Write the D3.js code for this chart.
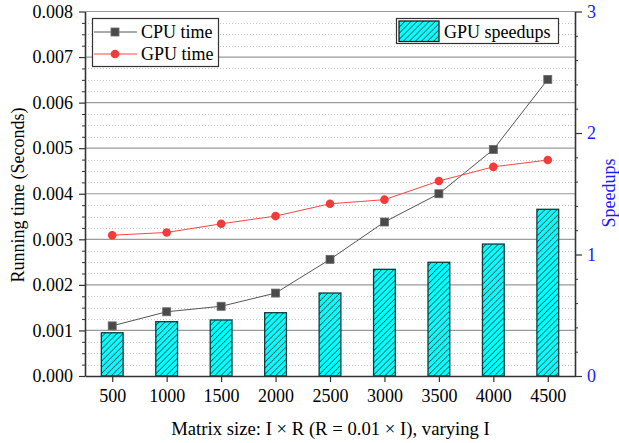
<!DOCTYPE html>
<html>
<head>
<meta charset="utf-8">
<script src="https://cdn.jsdelivr.net/npm/d3@7"></script>
<style>
  body { margin: 0; background: #fff; }
  svg { font-family: "Liberation Serif", "Times New Roman", serif; }
</style>
</head>
<body>
<div id="chart"></div>
<script>
// data
var sizes = [500, 1000, 1500, 2000, 2500, 3000, 3500, 4000, 4500];
var cpuTime = [0.00110, 0.00141, 0.00153, 0.00182, 0.00256, 0.00338, 0.00400, 0.00497, 0.00651];
var gpuTime = [0.00309, 0.00315, 0.00334, 0.00351, 0.00378, 0.00387, 0.00428, 0.00459, 0.00474];
var speedups = [0.356, 0.447, 0.461, 0.521, 0.683, 0.878, 0.936, 1.086, 1.372];
var leftTicks = [0, 0.001, 0.002, 0.003, 0.004, 0.005, 0.006, 0.007, 0.008];
var rightTicks = [0, 1, 2, 3];

// frame (note: "top" is taken by window.top, so use plotTop)
var W = 619, H = 443;
var plotLeft = 85, plotRight = 575, plotTop = 11.5, plotBottom = 376;

var x = d3.scaleLinear().domain([250, 4750]).range([plotLeft, plotRight]);
var yL = d3.scaleLinear().domain([0, 0.008]).range([plotBottom, plotTop]);
var yR = d3.scaleLinear().domain([0, 3]).range([plotBottom, plotTop]);

var svg = d3.select("#chart").append("svg")
    .attr("width", W).attr("height", H);

// hatch pattern for the bars
var pat = svg.append("defs").append("pattern")
    .attr("id", "hatch")
    .attr("patternUnits", "userSpaceOnUse")
    .attr("width", 4.3).attr("height", 4.3)
    .attr("patternTransform", "rotate(45)");
pat.append("rect").attr("width", 4.3).attr("height", 4.3).attr("fill", "#00ffff");
pat.append("line").attr("x1", 0).attr("y1", 0).attr("x2", 0).attr("y2", 4.3)
    .attr("stroke", "#000").attr("stroke-width", 1.1);

// minor grid (dotted) and major grid (solid)
var minor = d3.range(0, 0.00801, 0.00025).filter(function(v) {
  return Math.abs(v / 0.001 - Math.round(v / 0.001)) > 1e-6;
});
svg.append("g").selectAll("line").data(minor).enter().append("line")
    .attr("x1", plotLeft).attr("x2", plotRight)
    .attr("y1", function(d) { return Math.round(yL(d)) + 0.5; })
    .attr("y2", function(d) { return Math.round(yL(d)) + 0.5; })
    .attr("stroke", "#c4c4c4").attr("stroke-dasharray", "1,2");
svg.append("g").selectAll("line").data(leftTicks.slice(1)).enter().append("line")
    .attr("x1", plotLeft).attr("x2", plotRight)
    .attr("y1", function(d) { return yL(d); })
    .attr("y2", function(d) { return yL(d); })
    .attr("stroke", "#9a9a9a").attr("stroke-width", 1.2);

// bars (speedups on right axis)
var barW = x(600) - x(400);
svg.append("g").selectAll("rect").data(sizes).enter().append("rect")
    .attr("x", function(d) { return x(d) - barW / 2; })
    .attr("width", barW)
    .attr("y", function(d, i) { return yR(speedups[i]); })
    .attr("height", function(d, i) { return plotBottom - yR(speedups[i]); })
    .attr("fill", "url(#hatch)")
    .attr("stroke", "#153a3a").attr("stroke-width", 1.3);

// lines
var timeLine = d3.line().x(function(d, i) { return x(sizes[i]); }).y(function(d) { return yL(d); });
svg.append("path").datum(cpuTime).attr("d", timeLine)
    .attr("fill", "none").attr("stroke", "#555").attr("stroke-width", 1);
svg.append("path").datum(gpuTime).attr("d", timeLine)
    .attr("fill", "none").attr("stroke", "#f44").attr("stroke-width", 1);

svg.append("g").selectAll("rect").data(cpuTime).enter().append("rect")
    .attr("x", function(d, i) { return x(sizes[i]) - 4; })
    .attr("y", function(d) { return yL(d) - 4; })
    .attr("width", 8).attr("height", 8)
    .attr("fill", "#4a4a4a").attr("stroke", "#6a6a6a").attr("stroke-width", 0.8);
svg.append("g").selectAll("circle").data(gpuTime).enter().append("circle")
    .attr("cx", function(d, i) { return x(sizes[i]); })
    .attr("cy", function(d) { return yL(d); })
    .attr("r", 4.3)
    .attr("fill", "#f23c3c");

// axes
function styleAxis(g, color) {
  g.selectAll(".domain").attr("stroke", "#333").attr("stroke-width", 1.6);
  g.selectAll(".tick line").attr("stroke", "#333").attr("stroke-width", 1.2);
  g.selectAll("text").attr("font-family", "Liberation Serif").attr("font-size", 18)
    .attr("fill", color || "#000");
}

svg.append("g").attr("transform", "translate(" + plotLeft + ",0)")
    .call(d3.axisLeft(yL).tickValues(minor).tickSize(3).tickFormat(""))
    .call(function(g) { g.select(".domain").remove(); g.selectAll("line").attr("stroke", "#333"); });
svg.append("g").attr("transform", "translate(" + plotLeft + ",0)")
    .call(d3.axisLeft(yL).tickValues(leftTicks).tickSize(6).tickSizeOuter(0).tickPadding(6)
      .tickFormat(d3.format(".3f")))
    .call(styleAxis);

var rMinor = d3.range(0, 3.01, 0.2).filter(function(v) { return Math.abs(v - Math.round(v)) > 1e-6; });
svg.append("g").attr("transform", "translate(" + plotRight + ",0)")
    .call(d3.axisRight(yR).tickValues(rMinor).tickSize(3).tickFormat(""))
    .call(function(g) { g.select(".domain").remove(); g.selectAll("line").attr("stroke", "#333"); });
svg.append("g").attr("transform", "translate(" + plotRight + ",0)")
    .call(d3.axisRight(yR).tickValues(rightTicks).tickSize(7).tickSizeOuter(0).tickPadding(5)
      .tickFormat(d3.format("d")))
    .call(function(g) { styleAxis(g, "#1a1aff"); });

svg.append("g").attr("transform", "translate(0," + plotBottom + ")")
    .call(d3.axisBottom(x).tickValues(sizes).tickSize(6).tickSizeOuter(0).tickPadding(7)
      .tickFormat(d3.format("d")))
    .call(styleAxis);

// axis titles
svg.append("text")
    .attr("transform", "translate(18,195) rotate(-90)")
    .attr("text-anchor", "middle").attr("dominant-baseline", "central")
    .attr("font-size", 18).text("Running time (Seconds)");
svg.append("text")
    .attr("transform", "translate(609,193) rotate(-90)")
    .attr("text-anchor", "middle").attr("dominant-baseline", "central")
    .attr("font-size", 18).attr("fill", "#1a1aff").text("Speedups");
svg.append("text")
    .attr("x", (plotLeft + plotRight) / 2 + 0.5).attr("y", 434.5)
    .attr("text-anchor", "middle").attr("font-size", 18.7)
    .text("Matrix size: I \u00d7 R (R = 0.01 \u00d7 I), varying I");

// legend for the lines
var lg = svg.append("g");
lg.append("rect").attr("x", 92.5).attr("y", 18.5).attr("width", 126).attr("height", 48)
    .attr("fill", "#fff").attr("stroke", "#333").attr("stroke-width", 1.2);
lg.append("line").attr("x1", 94).attr("x2", 137).attr("y1", 32).attr("y2", 32).attr("stroke", "#555");
lg.append("rect").attr("x", 111).attr("y", 28).attr("width", 8).attr("height", 8)
    .attr("fill", "#4a4a4a").attr("stroke", "#6a6a6a").attr("stroke-width", 0.8);
lg.append("text").attr("x", 141).attr("y", 38).attr("font-size", 18).text("CPU time");
lg.append("line").attr("x1", 94).attr("x2", 137).attr("y1", 54).attr("y2", 54).attr("stroke", "#f44");
lg.append("circle").attr("cx", 115).attr("cy", 54).attr("r", 4.3).attr("fill", "#f23c3c");
lg.append("text").attr("x", 141).attr("y", 60).attr("font-size", 18).text("GPU time");

// legend for the bars
var lb = svg.append("g");
lb.append("rect").attr("x", 396.5).attr("y", 18.5).attr("width", 162).attr("height", 25)
    .attr("fill", "#fff").attr("stroke", "#333").attr("stroke-width", 1.2);
lb.append("rect").attr("x", 399).attr("y", 21).attr("width", 40).attr("height", 20.5)
    .attr("fill", "url(#hatch)").attr("stroke", "#111").attr("stroke-width", 1.2);
lb.append("text").attr("x", 444).attr("y", 37.5).attr("font-size", 18).text("GPU speedups");
</script>
</body>
</html>
